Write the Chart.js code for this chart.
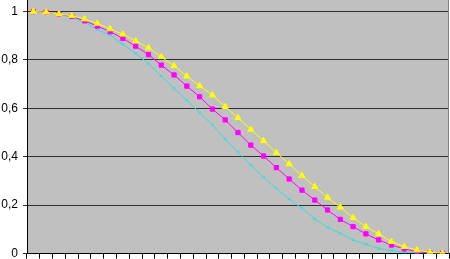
<!DOCTYPE html>
<html>
<head>
<meta charset="utf-8">
<script src="https://cdn.jsdelivr.net/npm/chart.js@4"></script>
<style>
  html, body { margin: 0; padding: 0; background: #fff; }
  #wrap { width: 450px; height: 259px; position: relative; }
</style>
</head>
<body>
<div id="wrap"><canvas id="curveChart"></canvas></div>
<script>
// categories (no labels shown on the x axis)
const categories = ['1','2','3','4','5','6','7','8','9','10','11','12','13','14','15','16','17',
  '18','19','20','21','22','23','24','25','26','27','28','29','30','31','32','33'];

const yellowValues = [1.0, 0.997, 0.99, 0.983, 0.969, 0.951, 0.928, 0.906, 0.878, 0.85, 0.813,
  0.776, 0.733, 0.693, 0.655, 0.607, 0.561, 0.513, 0.466, 0.417, 0.37, 0.322, 0.276, 0.232,
  0.191, 0.148, 0.111, 0.081, 0.049, 0.028, 0.014, 0.005, 0.002];

const magentaValues = [1.0, 0.997, 0.99, 0.98, 0.962, 0.94, 0.917, 0.889, 0.857, 0.822, 0.779,
  0.738, 0.692, 0.648, 0.597, 0.552, 0.5, 0.448, 0.403, 0.355, 0.308, 0.262, 0.221, 0.18,
  0.141, 0.111, 0.081, 0.056, 0.035, 0.019, 0.008, 0.003, 0.002];

const cyanValues = [1.0, 0.997, 0.99, 0.976, 0.955, 0.926, 0.903, 0.864, 0.827, 0.786, 0.733,
  0.683, 0.634, 0.582, 0.531, 0.473, 0.418, 0.366, 0.315, 0.269, 0.225, 0.187, 0.143, 0.108,
  0.083, 0.056, 0.038, 0.021, 0.012, 0.005, 0.003, 0.002, 0.002];

const yTickLabels = ['0', '0,2', '0,4', '0,6', '0,8', '1'];

// grey plot area + thin right border, like the old spreadsheet chart
const plotArea = {
  id: 'plotArea',
  beforeDraw(chart) {
    const a = chart.chartArea, ctx = chart.ctx;
    ctx.save();
    ctx.fillStyle = '#c0c0c0';
    ctx.fillRect(a.left, a.top, a.right - a.left, a.bottom - a.top);
    ctx.restore();
  },
  afterDraw(chart) {
    const a = chart.chartArea, ctx = chart.ctx;
    ctx.save();
    ctx.strokeStyle = '#808080';
    ctx.lineWidth = 1;
    ctx.beginPath();
    ctx.moveTo(a.right - 0.5, a.top);
    ctx.lineTo(a.right - 0.5, a.bottom);
    ctx.stroke();
    ctx.restore();
  }
};

const ctx = document.getElementById('curveChart').getContext('2d');
new Chart(ctx, {
  type: 'line',
  data: {
    labels: categories,
    datasets: [
      {
        label: 'Yellow',
        data: yellowValues,
        borderColor: '#ffff00',
        backgroundColor: '#ffff00',
        borderWidth: 1,
        pointStyle: 'triangle',
        pointRadius: 3.5,
        pointBorderWidth: 1,
        tension: 0
      },
      {
        label: 'Magenta',
        data: magentaValues,
        borderColor: '#ff00ff',
        backgroundColor: '#ff00ff',
        borderWidth: 1,
        pointStyle: 'rect',
        pointRadius: 3,
        pointBorderWidth: 1,
        tension: 0
      },
      {
        label: 'Cyan',
        data: cyanValues,
        borderColor: '#33dddd',
        backgroundColor: '#33dddd',
        borderWidth: 1,
        pointStyle: 'crossRot',
        pointRadius: 2,
        pointBorderWidth: 1,
        tension: 0
      }
    ]
  },
  options: {
    responsive: true,
    maintainAspectRatio: false,
    animation: false,
    layout: { padding: { top: 0, right: 1, left: 0, bottom: 0 }, autoPadding: false },
    plugins: {
      legend: { display: false },
      tooltip: { enabled: false }
    },
    scales: {
      x: {
        offset: true,
        border: { display: true, color: '#000', width: 1 },
        grid: {
          offset: true,
          drawOnChartArea: false,
          drawTicks: true,
          tickLength: 5,
          color: '#000'
        },
        ticks: { display: false },
        afterFit: function(scale) {
          scale.height = 5.5;
          scale.paddingLeft = 0;
          scale.paddingRight = 0;
        }
      },
      y: {
        min: 0,
        max: 1.048,
        border: { display: true, color: '#000', width: 1 },
        grid: {
          color: '#303030',
          lineWidth: 1,
          drawTicks: true,
          tickLength: 4
        },
        ticks: {
          stepSize: 0.2,
          includeBounds: false,
          color: '#000',
          padding: 5,
          font: { family: "'Liberation Sans', Arial, sans-serif", size: 12 },
          callback: function(value, index) { return yTickLabels[index]; }
        },
        afterFit: function(scale) {
          scale.width = 27;
          scale.paddingTop = 0;
          scale.paddingBottom = 0;
        }
      }
    }
  },
  plugins: [plotArea]
});
</script>
</body>
</html>
